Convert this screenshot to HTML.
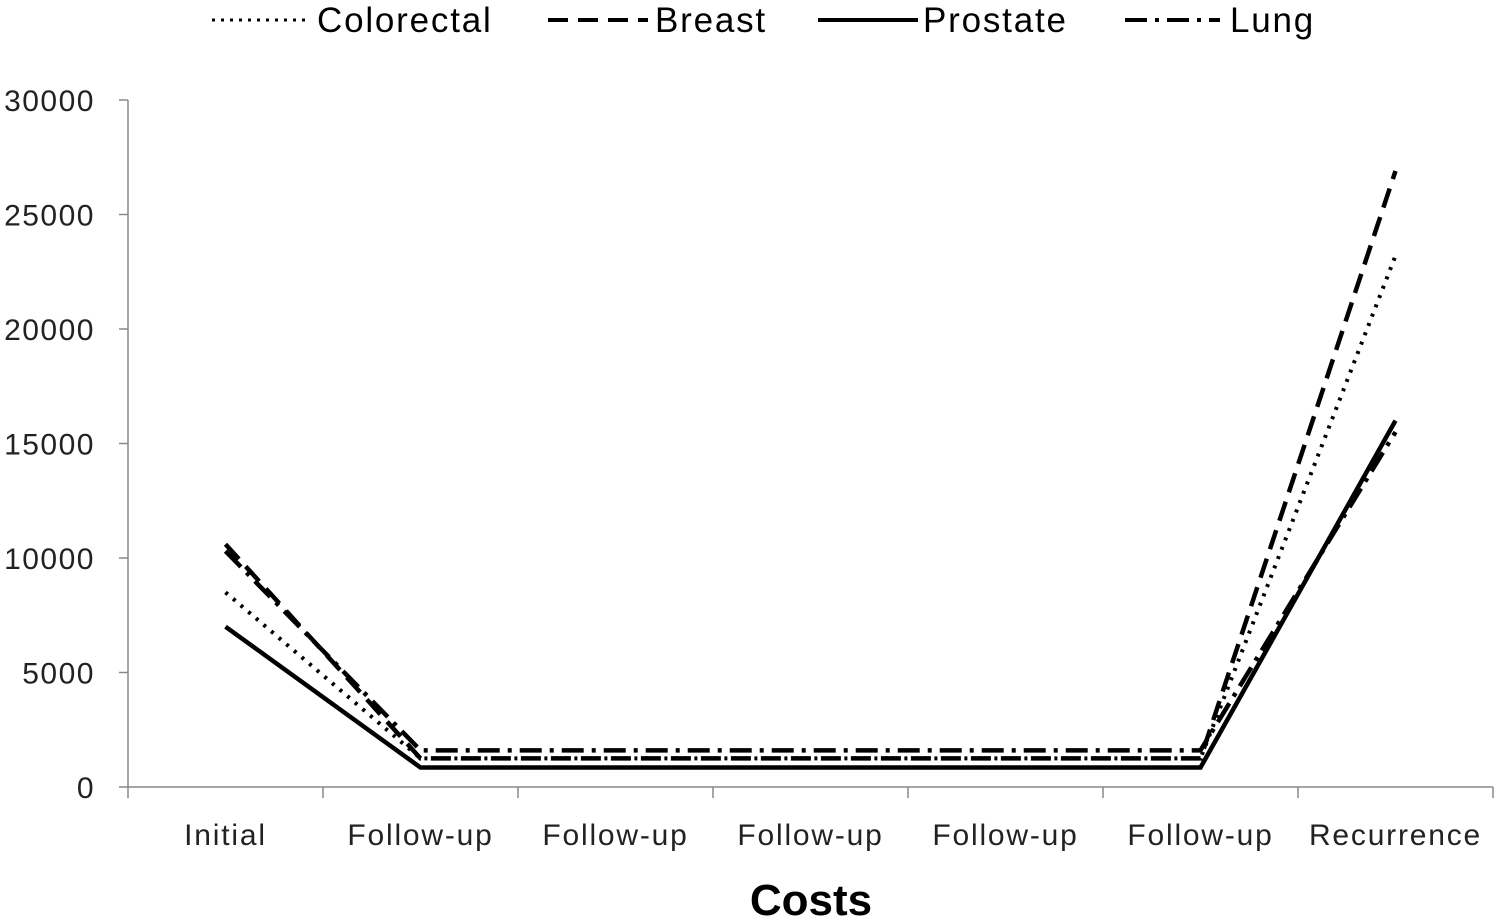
<!DOCTYPE html>
<html><head><meta charset="utf-8"><style>
body{margin:0;background:#fff;}
svg{display:block;font-family:"Liberation Sans",Calibri,sans-serif;}
</style></head><body>
<svg id="chart" width="1500" height="924">
<g id="legend">
  <g><line x1="212" y1="20" x2="305" y2="20" stroke="#000" stroke-width="3" stroke-dasharray="3,6"/><text x="317" y="32" font-size="35" letter-spacing="1.8">Colorectal</text></g>
  <g><line x1="548" y1="20" x2="648" y2="20" stroke="#000" stroke-width="4" stroke-dasharray="20,10"/><text x="655" y="32" font-size="35" letter-spacing="1.8">Breast</text></g>
  <g><line x1="818" y1="20" x2="918" y2="20" stroke="#000" stroke-width="4"/><text x="923" y="32" font-size="35" letter-spacing="1.8">Prostate</text></g>
  <g><line x1="1125" y1="20" x2="1220" y2="20" stroke="#000" stroke-width="4" stroke-dasharray="22,8,4,8"/><text x="1230" y="32" font-size="35" letter-spacing="1.8">Lung</text></g>
</g>
<g id="axes"></g>
<g id="series"></g>
<text x="811" y="915" text-anchor="middle" font-size="44" font-weight="bold">Costs</text>
</svg>
<script>
const categories=["Initial","Follow-up","Follow-up","Follow-up","Follow-up","Follow-up","Recurrence"];
const colorectal=[8500,1250,1250,1250,1250,1250,23200];
const breast=[10600,1250,1250,1250,1250,1250,26900];
const prostate=[7000,850,850,850,850,850,16000];
const lung=[10300,1600,1600,1600,1600,1600,15500];
const yTicks=[0,5000,10000,15000,20000,25000,30000];
const NS="http://www.w3.org/2000/svg";
const x0=128,x1=1493,y0=787,y1=100,yMax=30000;
const bw=(x1-x0)/categories.length;
function xs(i){return x0+bw*(i+0.5);}
function ys(v){return y0-(v/yMax)*(y0-y1);}
const axes=document.getElementById('axes');
function mk(tag,attrs,parent){const e=document.createElementNS(NS,tag);for(const k in attrs)e.setAttribute(k,attrs[k]);parent.appendChild(e);return e;}
let ya=mk('line',{x1:x0,y1:y1,x2:x0,y2:y0,stroke:'#888','stroke-width':1.5},axes);


let xa=mk('line',{x1:x0,y1:y0,x2:x1,y2:y0,stroke:'#888','stroke-width':1.5},axes);


yTicks.forEach(t=>{
  let tk=mk('line',{x1:x0-9,y1:ys(t),x2:x0,y2:ys(t),stroke:'#888','stroke-width':1.5},axes);
  
  
  let tx=mk('text',{x:95,y:ys(t)+11,'text-anchor':'end','font-size':30,'letter-spacing':1.5,fill:'#222'},axes);
  tx.textContent=t;
  
  
});
for(let i=0;i<=categories.length;i++){
  let tk=mk('line',{x1:x0+bw*i,y1:y0,x2:x0+bw*i,y2:y0+11,stroke:'#888','stroke-width':1.5},axes);
  
  
}
categories.forEach((c,i)=>{
  let tx=mk('text',{x:xs(i),y:845,'text-anchor':'middle','font-size':30,'letter-spacing':1.8,fill:'#222'},axes);
  tx.textContent=c;
  
  
});
const sg=document.getElementById('series');
function draw(vals,name,dash,w){
  const p=mk('polyline',{points:vals.map((v,i)=>xs(i)+','+ys(v)).join(' '),fill:'none',stroke:'#000','stroke-width':w,'stroke-dasharray':dash,'stroke-linejoin':'miter'},sg);
  
  
}
draw(prostate,'line-prostate','none',4.5);
draw(lung,'line-lung','22,8,4,8',4.5);
draw(breast,'line-breast','20,10',4.5);
draw(colorectal,'line-colorectal','3,7',4);
</script>
</body></html>
